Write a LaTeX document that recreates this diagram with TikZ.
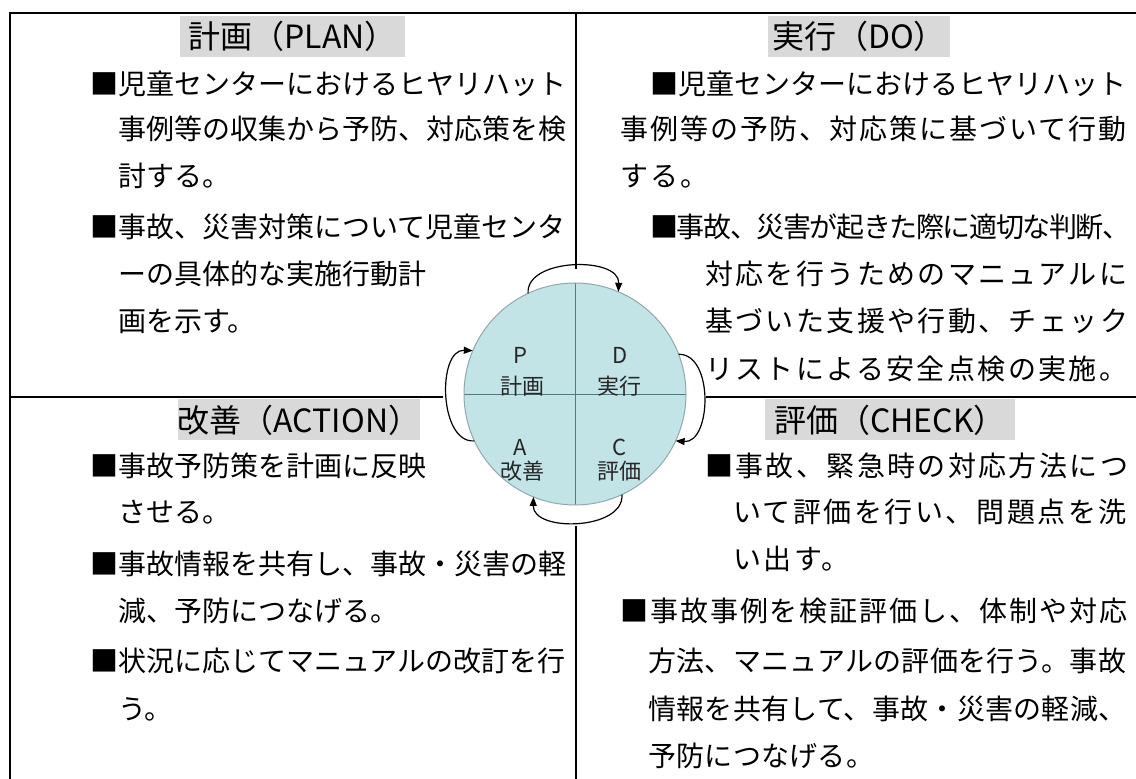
\documentclass[tikz,border=0pt]{standalone}
\usepackage{fontspec}
\setmainfont{Noto Sans CJK JP}
\usetikzlibrary{arrows.meta,calc}
\definecolor{titlegray}{HTML}{D9D9D9}
\definecolor{circfill}{HTML}{C3E4E6}
\definecolor{circline}{HTML}{8FA9AC}
\definecolor{circdiv}{HTML}{4F7A7E}
\newcommand{\bodyfont}{\fontsize{28pt}{34pt}\selectfont}
\newcommand{\titlefont}{\fontsize{32pt}{38pt}\selectfont}
\newcommand{\circfont}{\fontsize{22pt}{26pt}\selectfont}
\begin{document}
\begin{tikzpicture}[x=1pt,y=1pt,
  body/.style={anchor=base west, inner sep=0pt, font=\bodyfont},
  bodyls/.style={anchor=base west, inner sep=0pt, font=\bodyfont\addfontfeatures{LetterSpace=#1}},
  ttl/.style={fill=titlegray, inner sep=0pt, minimum height=41pt, font=\titlefont},
  frame/.style={line width=2pt, line cap=rect},
  cyc/.style={line width=1.2pt, -{Triangle[length=9pt,width=7pt]}},
  clab/.style={inner sep=0pt, font=\circfont, text=black!85}]
\useasboundingbox (0,0) rectangle (1136,779);
% frame lines
\draw[frame] (10,766) -- (1136,766);
\draw[frame] (10,766) -- (10,0);
\draw[frame] (576,766) -- (576,511);
\draw[frame] (576,252) -- (576,0);
\draw[frame] (10,382) -- (442,382);
\draw[frame] (707,382) -- (1136,382);
% titles
\node[ttl, minimum width=225pt] (tplan) at (292.5,742.5) {計画（PLAN）};
\node[ttl, minimum width=182pt] (tdo) at (859,742.5) {実行（DO）};
\node[ttl, minimum width=238pt] (tact) at (299,359) {改善（ACTION）};
\node[ttl, minimum width=250pt] (tchk) at (890,359) {評価（CHECK）};
% PLAN text
\node[body] (p1) at (90,684) {■児童センターにおけるヒヤリハット};
\node[body] (p2) at (118,639) {事例等の収集から予防、対応策を検};
\node[body] (p3) at (118,592) {討する。};
\node[body] (p4) at (90,541) {■事故、災害対策について児童センタ};
\node[body] (p5) at (118,494) {ーの具体的な実施行動計};
\node[body] (p6) at (118,447) {画を示す。};
% DO text
\node[body] (d1) at (650,684) {■児童センターにおけるヒヤリハット};
\node[bodyls=7] (d2) at (620,639) {事例等の予防、対応策に基づいて行動};
\node[bodyls=7] (d3) at (620,592) {する。};
\node[bodyls=-5] (d4) at (650,541) {■事故、災害が起きた際に適切な判断、};
\node[bodyls=8.5] (d5) at (705,494) {対応を行うためのマニュアルに};
\node[bodyls=8.5] (d6) at (705,447) {基づいた支援や行動、チェック};
\node[bodyls=8.5] (d7) at (705,399) {リストによる安全点検の実施。};
% ACTION text
\node[body] (a1) at (90,302) {■事故予防策を計画に反映};
\node[body] (a2) at (118,256) {させる。};
\node[body] (a3) at (90,204) {■事故情報を共有し、事故・災害の軽};
\node[body] (a4) at (118,157) {減、予防につなげる。};
\node[body] (a5) at (90,107) {■状況に応じてマニュアルの改訂を行};
\node[body] (a6) at (118,59) {う。};
% CHECK text
\node[bodyls=8.5] (c1) at (705,302) {■事故、緊急時の対応方法につ};
\node[bodyls=9] (c2) at (733,256) {いて評価を行い、問題点を洗};
\node[bodyls=9] (c3) at (733,209) {い出す。};
\node[bodyls=7] (c4) at (620,157) {■事故事例を検証評価し、体制や対応};
\node[bodyls=1] (c5) at (648,107) {方法、マニュアルの評価を行う。事故};
\node[bodyls=1] (c6) at (648,59) {情報を共有して、事故・災害の軽減、};
\node[bodyls=1] (c7) at (648,12) {予防につなげる。};
% PDCA circle
\coordinate (C) at (575,385);
\fill[circfill] (C) circle (111);
\draw[circdiv, line width=0.9pt] ($(C)+(0,111)$) -- ($(C)+(0,-111)$);
\draw[circdiv, line width=0.9pt] ($(C)+(-111,0)$) -- ($(C)+(111,0)$);
\draw[circline, line width=1pt] (C) circle (111);
\node[clab] (lp) at (520,424) {P};
\node[clab] (lpj) at (522,393) {計画};
\node[clab] (ld) at (620,424) {D};
\node[clab] (ldj) at (619,393) {実行};
\node[clab] (la) at (520,332) {A};
\node[clab] (laj) at (522,308) {改善};
\node[clab] (lc) at (620,332) {C};
\node[clab] (lcj) at (619,308) {評価};
% cycle arrows
\coordinate (t1) at ($(C)+(115:111)$);
\coordinate (t2) at ($(C)+(67:111)$);
\coordinate (r1) at ($(C)+(21:111)$);
\coordinate (r2) at ($(C)+(-25:111)$);
\coordinate (b1) at ($(C)+(-65:111)$);
\coordinate (b2) at ($(C)+(-112:111)$);
\coordinate (l1) at ($(C)+(205:111)$);
\coordinate (l2) at ($(C)+(157:111)$);
\draw[cyc] (t1) .. controls ($(C)+(110:145)$) and ($(C)+(72:145)$) .. (t2);
\draw[cyc] (r1) .. controls ($(C)+(16:145)$) and ($(C)+(-20:145)$) .. (r2);
\draw[cyc] (b1) .. controls ($(C)+(-70:145)$) and ($(C)+(-107:145)$) .. (b2);
\draw[cyc] (l1) .. controls ($(C)+(200:145)$) and ($(C)+(162:145)$) .. (l2);
\end{tikzpicture}
\end{document}
